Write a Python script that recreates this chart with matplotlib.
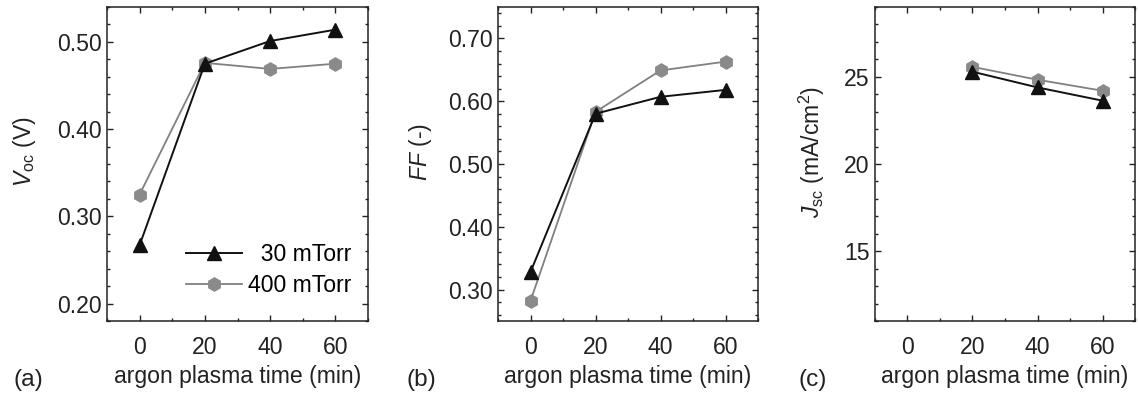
import matplotlib.pyplot as plt
from matplotlib.ticker import MultipleLocator, FormatStrFormatter

plt.rcParams['font.family'] = ['Liberation Sans', 'DejaVu Sans']
plt.rcParams['mathtext.fontset'] = 'custom'
plt.rcParams['mathtext.rm'] = 'Liberation Sans'
plt.rcParams['mathtext.it'] = 'Liberation Sans:italic'

# plasma time (min)
time = [0, 20, 40, 60]
time_jsc = [20, 40, 60]

# open circuit voltage (V)
voc_30 = [0.267, 0.475, 0.501, 0.514]
voc_400 = [0.325, 0.476, 0.469, 0.475]

# fill factor
ff_30 = [0.328, 0.580, 0.607, 0.618]
ff_400 = [0.282, 0.583, 0.649, 0.663]

# short circuit current (mA/cm2), no cell at 0 min
jsc_30 = [25.29, 24.39, 23.63]
jsc_400 = [25.57, 24.83, 24.20]

labels = ['  30 mTorr', '400 mTorr']

W, H = 1138, 405
fig = plt.figure(figsize=(W / 100, H / 100), dpi=100)

black = '#111111'
grey = '#808080'
grey_mk = '#8a8a8a'
txt = '#222222'
fs = 16.6


def panel(left, right, ylim, ymaj, ymin, fmt):
    ax = fig.add_axes([left / W, 1 - 321 / H, (right - left) / W, 314 / H])
    ax.set_xlim(-10, 70)
    ax.set_ylim(*ylim)
    ax.xaxis.set_major_locator(MultipleLocator(20))
    ax.xaxis.set_minor_locator(MultipleLocator(10))
    ax.yaxis.set_major_locator(MultipleLocator(ymaj))
    ax.yaxis.set_minor_locator(MultipleLocator(ymin))
    ax.yaxis.set_major_formatter(FormatStrFormatter(fmt))
    ax.tick_params(which='both', direction='in', top=True, right=True,
                   width=1.0, colors=txt, labelsize=fs, labelcolor=txt)
    ax.tick_params(which='major', length=4)
    ax.tick_params(which='minor', length=2.3)
    ax.tick_params(axis='x', pad=11)
    ax.tick_params(axis='y', pad=4)
    for s in ax.spines.values():
        s.set_linewidth(1.1)
        s.set_color(txt)
    ax.set_xlabel('argon plasma time (min)', fontsize=fs, color=txt)
    ax.xaxis.set_label_coords(0.5, -0.14)
    return ax


def series(ax, x, y30, y400):
    ax.plot(x, y30, color=black, lw=1.4, marker='^', ms=9.5,
            mfc=black, mec=black, label=labels[0], zorder=3)
    ax.plot(x, y400, color=grey, lw=1.3, marker='h', ms=9.5,
            mfc=grey_mk, mec=grey_mk, label=labels[1], zorder=2)


axa = panel(107, 368, (0.18, 0.54), 0.1, 0.02, '%.2f')
series(axa, time, voc_30, voc_400)
axa.legend(loc='lower right', frameon=False, fontsize=fs, handlelength=2.4,
           handletextpad=0.3, borderaxespad=0.3, labelspacing=0.35,
           bbox_to_anchor=(1.0, 0.025))

axb = panel(498, 758, (0.25, 0.75), 0.1, 0.02, '%.2f')
series(axb, time, ff_30, ff_400)

axc = panel(875, 1135, (11, 29), 5, 1, '%d')
series(axc, time_jsc, jsc_30, jsc_400)

ylab_y = 1 - 152 / H
fig.text(24 / W, ylab_y, r'$V_{\mathrm{oc}}$ (V)', rotation=90, ha='center',
         va='center', fontsize=fs, color=txt)
fig.text(420 / W, ylab_y, r'$FF$ (-)', rotation=90, ha='center',
         va='center', fontsize=fs, color=txt)
fig.text(812 / W, ylab_y, r'$J_{\mathrm{sc}}$ (mA/cm$^{2}$)', rotation=90,
         ha='center', va='center', fontsize=fs, color=txt)

for x, t in [(28, '(a)'), (421, '(b)'), (813, '(c)')]:
    fig.text(x / W, 1 - 380 / H, t, ha='center', va='center',
             fontsize=fs + 1, color=txt)

fig.savefig('out.png', dpi=100, facecolor='white')
